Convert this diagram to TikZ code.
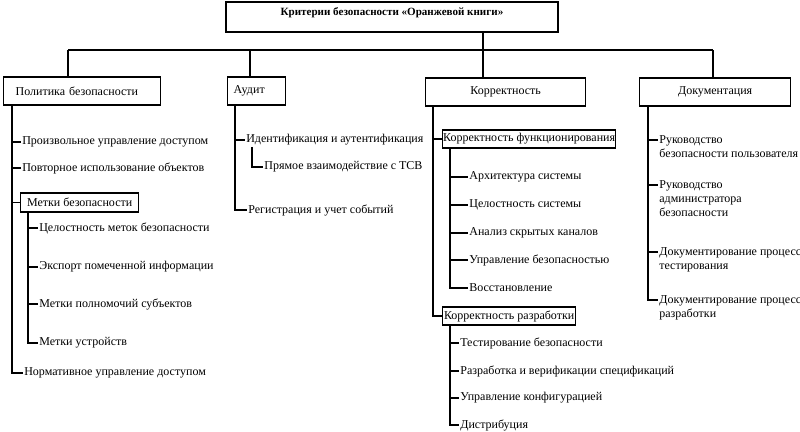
\documentclass[tikz,border=0pt]{standalone}
\usepackage{fontspec}
\setmainfont{Liberation Serif}
\usetikzlibrary{calc}
\begin{document}
\begin{tikzpicture}[x=0.75pt,y=-0.75pt,line width=0.8pt,
  txt/.style={font=\fontsize{9}{10.5}\selectfont},
  box/.style={txt,draw,line width=1pt,inner sep=0pt,anchor=west},
  lbl/.style={txt,anchor=west,inner sep=0pt,outer sep=1pt,align=left},
  mlbl/.style={txt,anchor=north west,inner sep=0pt,outer sep=1pt,align=left}]
\useasboundingbox (0,0) rectangle (800,432);
% top box
\node[draw,line width=1pt,inner sep=0pt,minimum width=249pt,minimum height=22.5pt,
  label={[font=\bfseries\fontsize{8.3}{10}\selectfont,anchor=north,inner sep=0pt,yshift=-4.5pt]north:Критерии безопасности «Оранжевой книги»}]
  (top) at (392,17) {};
% level 1 boxes
\node[box,minimum height=21pt,text width=99.75pt,inner xsep=9pt,align=left] (pol) at (3,91) {Политика безопасности};
\node[box,minimum height=21pt,text width=34.5pt,inner xsep=4.5pt,align=left] (aud) at (227,91) {Аудит};
\node[box,minimum height=21pt,minimum width=120pt] (kor) at (425,92) {Корректность};
\node[box,minimum height=21pt,minimum width=113.25pt] (dok) at (639,92) {Документация};
% bus
\coordinate (xa) at (68,50);
\coordinate (xb) at (250,50);
\coordinate (xc) at (483,50);
\coordinate (xd) at (713,50);
\draw (xa) -- (xd);
\draw (xa) -- (xa |- pol.north);
\draw (xb) -- (xb |- aud.north);
\draw (xc |- top.south) -- (xc |- kor.north);
\draw (xd) -- (xd |- dok.north);
% trunk x positions
\coordinate (tp) at (12,0);
\coordinate (tm) at (28,0);
\coordinate (ta) at (235,0);
\coordinate (ta2) at (252,0);
\coordinate (tk) at (433,0);
\coordinate (tf) at (450,0);
\coordinate (td) at (648,0);
% Политика
\node[lbl] (p1) at (21,142) {Произвольное управление доступом};
\node[lbl] (p2) at (21,168) {Повторное использование объектов};
\node[box,minimum height=14.25pt,minimum width=88.5pt] (mb) at (20,202.5) {Метки безопасности};
\node[lbl] (m1) at (38,228) {Целостность меток безопасности};
\node[lbl] (m2) at (38,267) {Экспорт помеченной информации};
\node[lbl] (m3) at (38,304) {Метки полномочий субъектов};
\node[lbl] (m4) at (38,343) {Метки устройств};
\node[lbl] (p3) at (23,373) {Нормативное управление доступом};
\foreach \n in {p1,p2,mb,p3} \draw (tp |- pol.south) |- (\n.west);
\foreach \n in {m1,m2,m3,m4} \draw (tm |- mb.south) |- (\n.west);
% Аудит
\node[lbl] (a1) at (245,140) {Идентификация и аутентификация};
\node[lbl] (a2) at (263,167) {Прямое взаимодействие с ТСВ};
\node[lbl] (a3) at (247,210) {Регистрация и учет событий};
\foreach \n in {a1,a3} \draw (ta |- aud.south) |- (\n.west);
\draw (ta2 |- a1.south) |- (a2.west);
% Корректность
\node[box,minimum height=13.5pt,minimum width=129.75pt] (kf) at (442,139) {Корректность функционирования};
\node[lbl] (f1) at (468,177) {Архитектура системы};
\node[lbl] (f2) at (468,205) {Целостность системы};
\node[lbl] (f3) at (468,233) {Анализ скрытых каналов};
\node[lbl] (f4) at (468,260) {Управление безопасностью};
\node[lbl] (f5) at (468,288) {Восстановление};
\node[box,minimum height=13.5pt,minimum width=99.75pt] (kr) at (442,316) {Корректность разработки};
\node[lbl] (r1) at (459,343) {Тестирование безопасности};
\node[lbl] (r2) at (459,371) {Разработка и верификации спецификаций};
\node[lbl] (r3) at (459,398) {Управление конфигурацией};
\node[lbl] (r4) at (459,425) {Дистрибуция};
\foreach \n in {kf,kr} \draw (tk |- kor.south) |- (\n.west);
\foreach \n in {f1,f2,f3,f4,f5} \draw (tf |- kf.south) |- (\n.west);
\foreach \n in {r1,r2,r3,r4} \draw (tf |- kr.south) |- (\n.west);
% Документация
\node[mlbl] (d1) at (658,134) {Руководство\\безопасности пользователя};
\node[mlbl] (d2) at (658,179) {Руководство\\администратора\\безопасности};
\node[mlbl] (d3) at (658,246) {Документирование процесс\\тестирования};
\node[mlbl] (d4) at (658,294) {Документирование процесс\\разработки};
\foreach \n in {d1,d2,d3,d4} \draw (td |- dok.south) |- ($(\n.north west)+(0,6)$);
\end{tikzpicture}
\end{document}
